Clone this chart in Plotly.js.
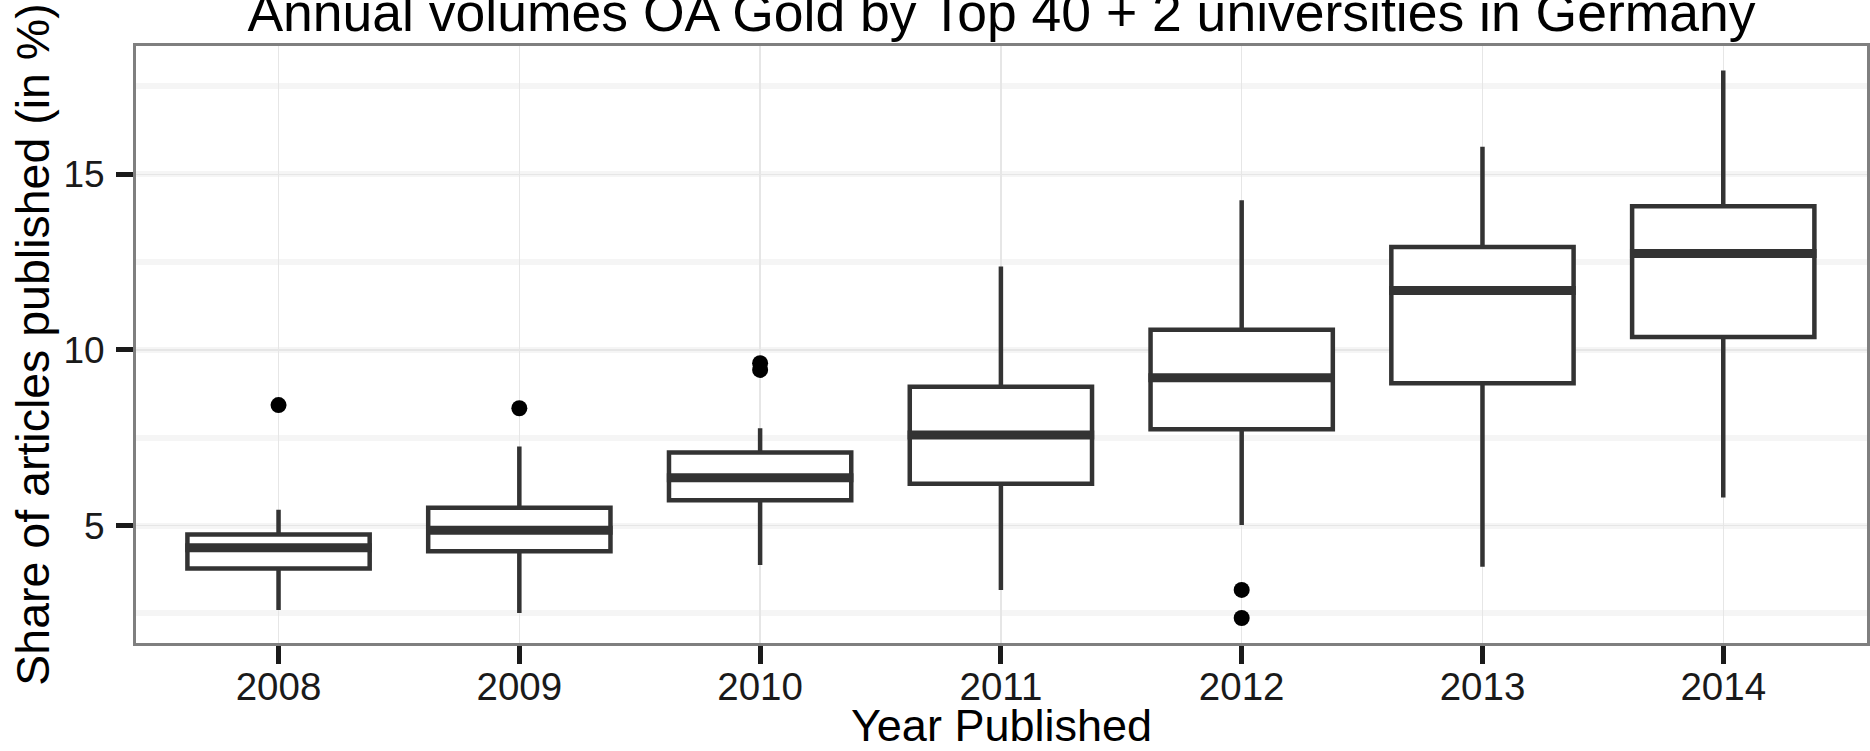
<!DOCTYPE html>
<html>
<head>
<meta charset="utf-8">
<script src="https://cdn.plot.ly/plotly-3.0.1.min.js"></script>
<style>
  html, body { margin: 0; padding: 0; background: #ffffff; }
  #chart { width: 1870px; height: 751px; }
</style>
</head>
<body>
<div id="chart"></div>
<script>
// ---- Data ----
var years = ['2008', '2009', '2010', '2011', '2012', '2013', '2014'];
var lowerWhisker = [2.60, 2.51, 3.88, 3.17, 5.02, 3.83, 5.80];
var q1Values     = [3.78, 4.27, 5.72, 6.19, 7.74, 9.05, 10.37];
var medianValues = [4.37, 4.87, 6.36, 7.58, 9.21, 11.69, 12.74];
var q3Values     = [4.75, 5.51, 7.08, 8.95, 10.57, 12.93, 14.09];
var upperWhisker = [5.45, 7.25, 7.77, 12.37, 14.26, 15.78, 17.95];
var outlierYears  = ['2008', '2009', '2010', '2010', '2012', '2012'];
var outlierValues = [8.43, 8.34, 9.62, 9.43, 3.17, 2.37];
var yTickValues = [5, 10, 15];

// ---- Styling ----
var FONT = 'Liberation Sans, Arial, Helvetica, sans-serif';
var BOX_WIDTH = 0.757;
var BOX_HALF = BOX_WIDTH / 2 + 0.009;

var boxTrace = {
  type: 'box', x: years,
  lowerfence: lowerWhisker, q1: q1Values, median: medianValues, q3: q3Values, upperfence: upperWhisker,
  width: BOX_WIDTH, boxpoints: false, fillcolor: '#ffffff',
  line: { color: '#333333', width: 4.5 }, whiskerwidth: 0, hoverinfo: 'skip', showlegend: false
};

var outlierTrace = {
  type: 'scatter', mode: 'markers', x: outlierYears, y: outlierValues,
  marker: { color: '#000000', size: 16, line: { width: 0 } }, hoverinfo: 'skip', showlegend: false
};

// thicker median bars (ggplot style), placed from the data through the axes
var medianShapes = medianValues.map(function (m, i) {
  return { type: 'line', xref: 'x', yref: 'y', layer: 'above',
    x0: i - BOX_HALF, x1: i + BOX_HALF, y0: m, y1: m, line: { color: '#333333', width: 9 } };
});

var layout = {
  width: 1870, height: 751,
  margin: { l: 136, r: 3, t: 46, b: 108, pad: 0 },
  paper_bgcolor: '#ffffff', plot_bgcolor: '#ffffff',
  font: { family: FONT, color: '#000000' }, showlegend: false,
  title: {
    text: 'Annual volumes OA Gold by Top 40 + 2 universities in Germany',
    font: { family: FONT, size: 53.5, color: '#000000' },
    x: 0.5, xref: 'paper', xanchor: 'center', y: 1 - 31 / 751, yref: 'container', yanchor: 'bottom'
  },
  xaxis: {
    type: 'category', categoryorder: 'array', categoryarray: years, range: [-0.592, 6.597],
    showline: true, linecolor: '#7f7f7f', linewidth: 3, mirror: true,
    ticks: 'outside', ticklen: 18, tickwidth: 5, tickcolor: '#1a1a1a',
    tickfont: { family: FONT, size: 38.5, color: '#1a1a1a' }, ticklabelstandoff: -10,
    showgrid: true, gridcolor: '#e6e6e6', gridwidth: 1.3, zeroline: false,
    title: { text: 'Year Published', font: { family: FONT, size: 45, color: '#000000' }, standoff: 16 }
  },
  yaxis: {
    range: [1.659, 18.648], tickmode: 'array', tickvals: yTickValues, ticktext: yTickValues.map(String),
    showline: true, linecolor: '#7f7f7f', linewidth: 3, mirror: true,
    ticks: 'outside', ticklen: 17, tickwidth: 5, tickcolor: '#1a1a1a',
    tickfont: { family: FONT, size: 37, color: '#1a1a1a' }, ticklabelstandoff: 4,
    showgrid: true, gridcolor: '#e6e6e6', gridwidth: 1.3,
    minor: { dtick: 2.5, tick0: 0, showgrid: true, gridcolor: '#f5f5f5', gridwidth: 6, ticks: '' },
    zeroline: false,
    title: { text: 'Share of articles published (in %)', font: { family: FONT, size: 46.5, color: '#000000' }, standoff: 0 }
  },
  shapes: medianShapes
};

Plotly.newPlot('chart', [boxTrace, outlierTrace], layout, { staticPlot: true, displayModeBar: false });
</script>
</body>
</html>
